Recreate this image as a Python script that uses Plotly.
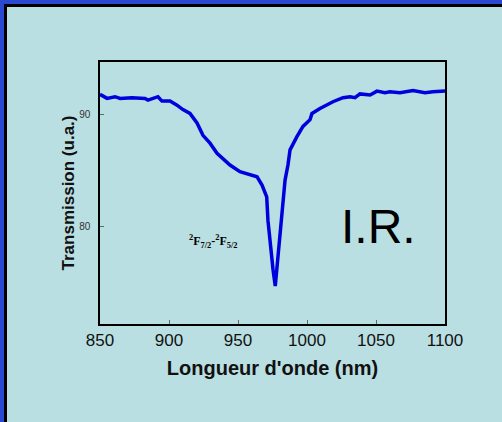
import plotly.graph_objects as go

# transmission spectrum
wavelength = [850.0, 855.1, 860.9, 864.5, 873.2, 882.6, 884.8, 892.0, 894.9, 900.7,
              905.8, 910.1, 915.2, 920.3, 924.6, 929.7, 934.8, 939.1, 944.2, 951.4,
              958.7, 963.8, 967.4, 970.8, 971.7, 973.2, 975.4, 977.0, 978.3, 979.7,
              981.2, 982.6, 984.1, 986.2, 987.7, 992.8, 997.1, 1002.2, 1003.6, 1009.4,
              1018.8, 1026.1, 1031.2, 1034.8, 1038.4, 1045.7, 1050.7, 1056.5, 1060.1,
              1067.4, 1076.8, 1085.5, 1091.3, 1100.0]
transmission = [91.76, 91.4, 91.55, 91.4, 91.45, 91.4, 91.25, 91.55, 91.16, 91.16,
                90.8, 90.4, 90.06, 89.2, 88.1, 87.4, 86.5, 86.05, 85.45, 84.85,
                84.55, 84.4, 83.66, 82.6, 80.5, 78.45, 76.1, 74.64, 76.4, 78.45,
                80.8, 82.6, 84.1, 85.45, 86.8, 88.0, 88.9, 89.5, 90.06, 90.5,
                91.1, 91.46, 91.55, 91.46, 91.8, 91.7, 92.05, 91.9, 92.0,
                91.9, 92.1, 91.9, 92.0, 92.05]

x_ticks = [850, 900, 950, 1000, 1050, 1100]
y_ticks = [80, 90]

bg = 'rgb(185, 223, 226)'
blue = 'rgb(42, 72, 208)'

fig = go.Figure(go.Scatter(x=wavelength, y=transmission, mode='lines',
                           line=dict(color='rgb(0, 0, 220)', width=3.5)))

# page frame: blue border, black inner line (top and left only)
L, T, W, H = 100, 62, 345, 262
def px(x):
    return (x - L) / W
def py(y):
    return (T + H - y) / H

for x0, y0, x1, y1, col in [(0, 0, 502, 4, blue), (0, 0, 4, 422, blue),
                            (4, 4, 502, 7, 'black'), (4, 4, 7, 422, 'black')]:
    fig.add_shape(type='rect', xref='paper', yref='paper', layer='below',
                  x0=px(x0), x1=px(x1), y0=py(y0), y1=py(y1),
                  fillcolor=col, line_width=0)

fig.add_annotation(x=1052, y=80, text='I.R.', showarrow=False,
                   font=dict(family='Liberation Sans', size=48, color='black'))
fig.add_annotation(x=932, y=78.6,
                   text='<b><sup>2</sup>F<sub>7/2</sub>-<sup>2</sup>F<sub>5/2</sub></b>',
                   showarrow=False,
                   font=dict(family='Liberation Serif', size=12, color='black'))

fig.update_layout(
    width=502, height=422,
    margin=dict(l=L, r=502 - L - W, t=T, b=422 - T - H),
    paper_bgcolor=bg,
    plot_bgcolor=bg,
    showlegend=False,
    font=dict(family='Liberation Sans'),
)
fig.update_xaxes(range=[850, 1100], tickvals=x_ticks, ticks='inside', ticklen=4,
                 tickcolor='#666', showline=True, linecolor='black', linewidth=1.5,
                 mirror=True, showgrid=False, zeroline=False,
                 tickfont=dict(size=17, color='#111'),
                 title=dict(text='<b>Longueur d\'onde (nm)</b>',
                            font=dict(size=20, color='#111'), standoff=12))
fig.update_yaxes(range=[71.25, 94.65], tickvals=y_ticks, ticks='inside', ticklen=4,
                 tickcolor='#666', showline=True, linecolor='black', linewidth=1.5,
                 mirror=True, showgrid=False, zeroline=False,
                 ticklabelstandoff=6,
                 tickfont=dict(size=10, color='#333'),
                 title=dict(text='<b>Transmission (u.a.)</b>',
                            font=dict(size=17, color='#111'), standoff=0))

fig.write_html('out.html', config={'displayModeBar': False},
               post_script="document.body.style.margin='0';")
